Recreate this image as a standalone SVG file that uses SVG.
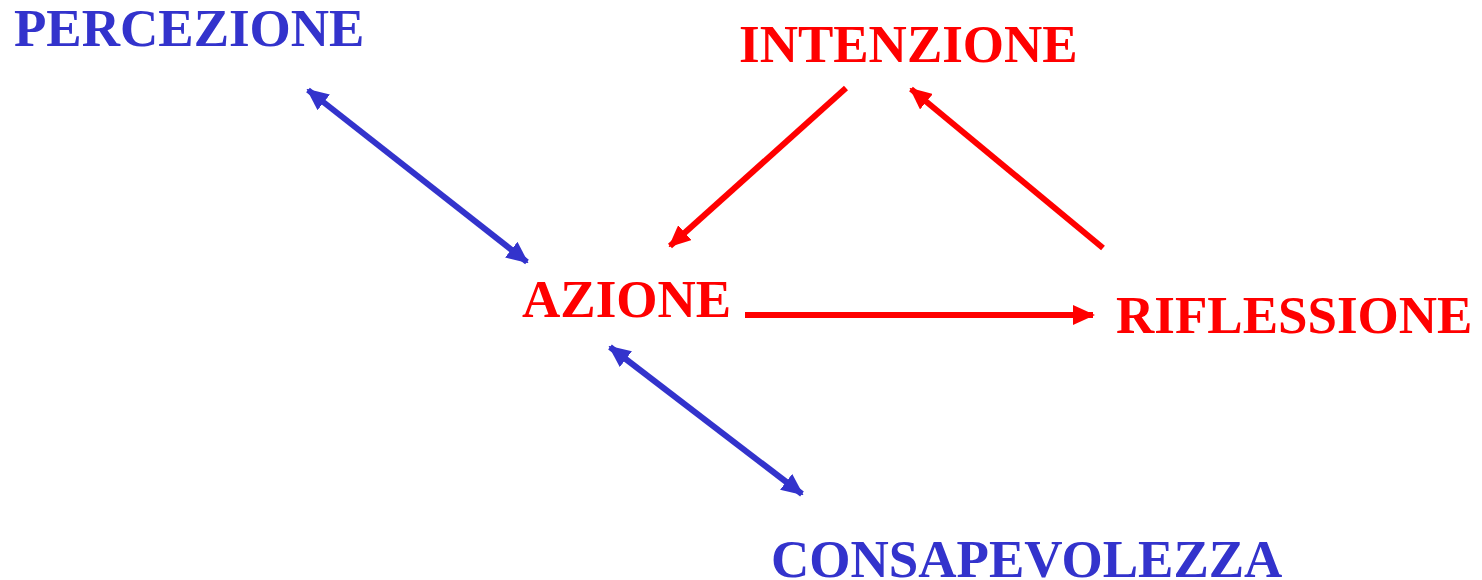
<svg xmlns="http://www.w3.org/2000/svg" width="1482" height="580" viewBox="0 0 1482 580">
<defs>
<style>
.lbl{font-family:"Liberation Serif","Times New Roman",serif;font-weight:bold;font-size:53px}
.blue{fill:#3333CC}
.red{fill:#FF0000}
.cb{stroke:#3333CC;stroke-width:6;fill:none}
.cr{stroke:#FF0000;stroke-width:6;fill:none}
</style>
<marker id="ab" viewBox="0 0 22 20" refX="20" refY="10" markerWidth="22" markerHeight="20" orient="auto-start-reverse" markerUnits="userSpaceOnUse">
<path d="M0,0 L22,10 L0,20 Z" fill="#3333CC"/>
</marker>
<marker id="ar" viewBox="0 0 22 20" refX="20" refY="10" markerWidth="22" markerHeight="20" orient="auto" markerUnits="userSpaceOnUse">
<path d="M0,0 L22,10 L0,20 Z" fill="#FF0000"/>
</marker>
</defs>
<rect width="1482" height="580" fill="#FFFFFF"/>
<g id="connectors">
<line class="cb" x1="308" y1="90" x2="527" y2="262" marker-start="url(#ab)" marker-end="url(#ab)"/>
<line class="cb" x1="610" y1="347" x2="802" y2="494" marker-start="url(#ab)" marker-end="url(#ab)"/>
<line class="cr" x1="745" y1="315" x2="1093" y2="315" marker-end="url(#ar)"/>
<line class="cr" x1="846" y1="88" x2="670" y2="246" marker-end="url(#ar)"/>
<line class="cr" x1="1103" y1="248" x2="911" y2="89" marker-end="url(#ar)"/>
</g>
<g id="node-percezione"><text class="lbl blue" x="14" y="46">PERCEZIONE</text></g>
<g id="node-intenzione"><text class="lbl red" x="739" y="62">INTENZIONE</text></g>
<g id="node-azione"><text class="lbl red" x="522" y="317">AZIONE</text></g>
<g id="node-riflessione"><text class="lbl red" x="1116" y="333">RIFLESSIONE</text></g>
<g id="node-consapevolezza"><text class="lbl blue" x="771" y="577">CONSAPEVOLEZZA</text></g>
</svg>
